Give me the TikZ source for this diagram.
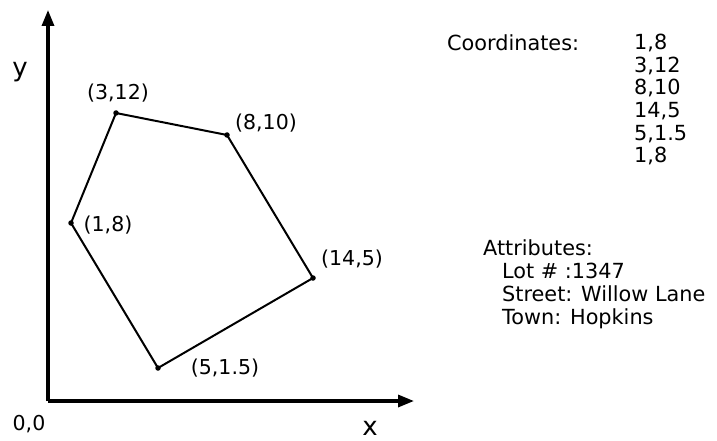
\documentclass[tikz,border=0pt]{standalone}
\usepackage{fontspec}
\setmainfont{DejaVu Sans}
\usetikzlibrary{arrows.meta}
\begin{document}
\begin{tikzpicture}[x=1pt,y=-1pt,
  axis/.style={line width=3.2pt,-{Triangle[length=16pt,width=12pt]}},
  edge/.style={line width=2pt,line join=miter},
  vdot/.style={circle,fill=black,inner sep=0pt,minimum size=5.5pt},
  lbl/.style={font=\fontsize{20.5}{22}\selectfont,inner sep=0pt},
  big/.style={font=\fontsize{26}{28}\selectfont,inner sep=0pt},
  txt/.style={font=\fontsize{20.8}{22.6}\selectfont,inner sep=0pt,align=left,anchor=north west}]
\useasboundingbox (0,0) rectangle (717,441);
\coordinate (O) at (48,401);
\coordinate (Ytip) at (48,10);
\coordinate (Xtip) at (414,401);
\draw[axis] (O) -- (Ytip);
\draw[axis] (O) -- (Xtip);
\node[big] (ylab) at (20,72) {y};
\node[big] (xlab) at (370,428) {x};
\node[lbl] (olab) at (29,424) {0,0};
\node[vdot] (p1) at (71,223) {};
\node[vdot] (p2) at (116,113) {};
\node[vdot] (p3) at (227,135) {};
\node[vdot] (p4) at (313,278) {};
\node[vdot] (p5) at (158,368) {};
\draw[edge] (p1.center) -- (p2.center) -- (p3.center) -- (p4.center) -- (p5.center) -- cycle;
\node[lbl] (l2) at (118,93) {(3,12)};
\node[lbl] (l3) at (266,123) {(8,10)};
\node[lbl] (l1) at (108,225) {(1,8)};
\node[lbl] (l4) at (352,259) {(14,5)};
\node[lbl] (l5) at (225,368) {(5,1.5)};
\node[txt] (ct) at (447,34) {Coordinates:};
\node[txt] (cl) at (634,34) {1,8\\3,12\\8,10\\14,5\\5,1.5\\1,8};
\node[txt,font=\fontsize{20.8}{23}\selectfont] (at) at (483,239) {Attributes:\\
\hspace*{19pt}Lot \# :1347\\
\hspace*{19pt}Street: Willow Lane\\
\hspace*{19pt}Town: Hopkins};
\end{tikzpicture}
\end{document}
